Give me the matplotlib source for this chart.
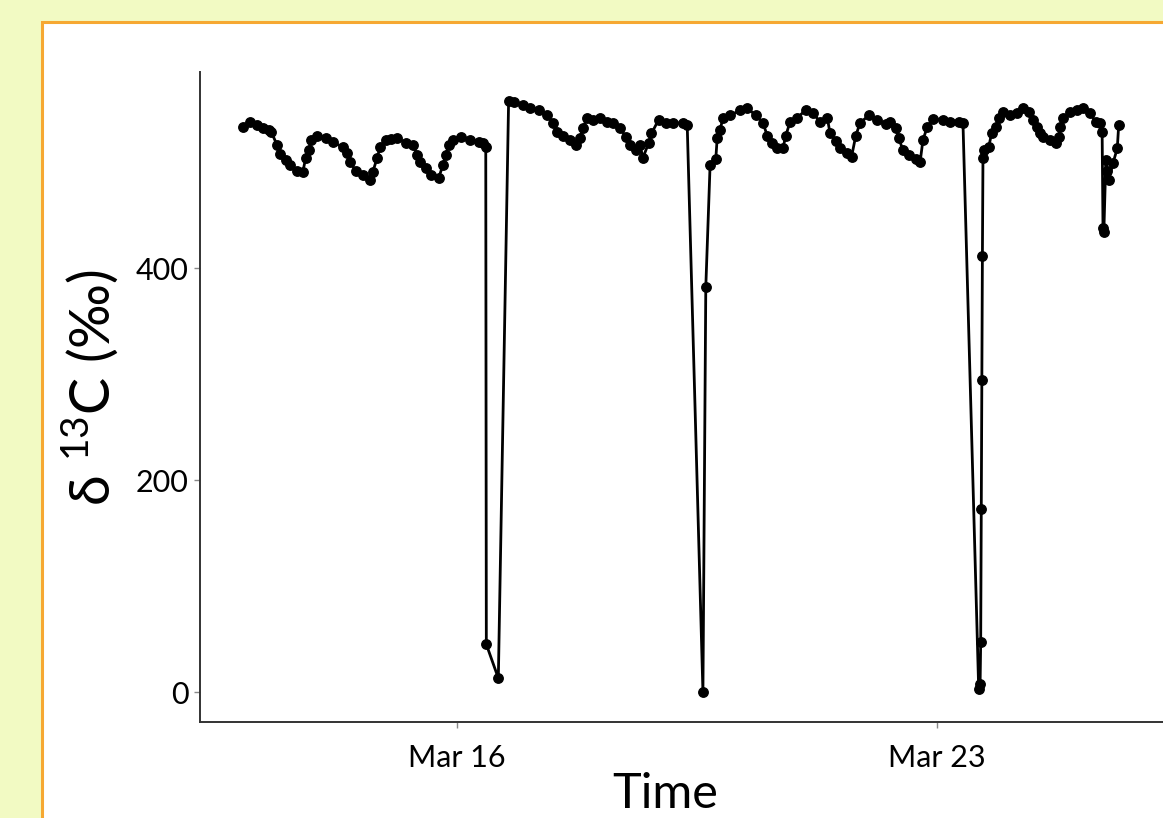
import numpy as np
import pandas as pd
import matplotlib
matplotlib.use("Agg")
import matplotlib.pyplot as plt
import matplotlib.dates as mdates
from matplotlib.patches import Rectangle

plt.rcParams['font.family'] = ['Lato', 'DejaVu Sans']
plt.rcParams['mathtext.fontset'] = 'custom'
plt.rcParams['mathtext.rm'] = 'Lato'

# hours after 2021-03-16 00:00, and delta 13C values (per mil)
hours = [-75, -72.5, -70, -68, -66, -65, -63, -62, -60, -58.5, -56, -54, -53, -52, -51, -49,
         -46, -43.5, -40, -38.5, -37.5, -35.5, -33, -30.5, -29.5, -28, -27, -25, -23, -21,
         -18, -15.5, -14, -13, -11, -9, -6.5, -5, -4, -3, -1.5, 1.5, 4.5, 7.5, 9, 10,
         10.2, 14.4,
         18, 20, 23, 25.5, 28.5, 31.5, 33.5, 35, 37, 39.5, 41.5, 43, 44, 45.5, 47.5, 50,
         52.5, 54.5, 57, 59, 60.5, 62.5, 64, 65, 67, 68, 70.5, 73, 75.5, 79, 80.5,
         86, 87,
         88.5, 90.5, 91, 92, 93, 95.5, 99, 101.5, 104.5, 107, 108.5, 110, 112, 114, 115,
         116.5, 119, 122, 124.5, 127, 129.5, 130.5, 132.5, 134, 136.5, 138, 139.5, 141,
         144, 147, 150, 151.5, 153.5, 154.5, 156, 158, 160.5, 162, 163, 164.5, 166.5, 170,
         172.5, 175.5, 177,
         182.5, 183, 183.2, 183.4, 183.6, 183.8, 184,
         184.5, 186, 187, 188.5, 189.5, 191, 193.5, 196, 198, 200, 201.5, 203, 204, 205,
         207.5, 209.5, 210.5, 211, 212, 214.5, 217, 219, 221.5, 223.5, 225, 225.7,
         226, 226.3, 227, 227.5, 228, 229.5, 231, 231.5]
d13c = [533, 538, 535, 532, 530, 528, 516, 508, 502, 497, 492, 491, 504, 511, 521, 525,
        523, 519, 514, 509, 500, 492, 488, 483, 491, 504, 514, 521, 522, 523,
        518, 516, 507, 500, 494, 488, 485, 497, 507, 516, 521, 524, 521, 519, 518, 514,
        45, 13,
        558, 557, 554, 551, 549, 544, 537, 528, 525, 521, 516, 523, 532, 542, 540, 542,
        538, 537, 532, 524, 516, 511, 516, 504, 518, 527, 540, 537, 537, 537, 535,
        0, 382,
        497, 503, 523, 530, 542, 544, 549, 551, 544, 537, 525, 518, 513, 513, 525,
        538, 542, 549, 546, 538, 542, 527, 520, 513, 509, 505, 525, 537,
        544, 540, 536, 538, 532, 523, 511, 507, 503, 500, 521, 533, 541, 540,
        538, 538, 537,
        3, 8, 47, 173, 294, 411, 504,
        511, 514, 527, 533, 542, 547, 544, 546, 551, 547, 540, 533, 527, 524,
        521, 518, 524, 533, 542, 547, 549, 551, 546, 538, 537, 528,
        438, 434, 502, 492, 483, 499, 513, 535]

base = pd.Timestamp("2021-03-16")
times = base + pd.to_timedelta(hours, unit="h")
tick_days = [pd.Timestamp("2021-03-16"), pd.Timestamp("2021-03-23")]
y_ticks = [0, 200, 400]

fig = plt.figure(figsize=(11.63, 8.18), dpi=100)
fig.patch.set_facecolor("#F2FAC3")

# white panel with orange frame
panel = Rectangle((42 / 1163, -0.2), 1.2, 1.2 - 22 / 818, transform=fig.transFigure,
                  facecolor="white", edgecolor="#F6A832", linewidth=2.2, zorder=-5)
fig.patches.append(panel)

ax = fig.add_axes([200 / 1163, 96 / 818, 963 / 1163, 650 / 818])
ax.set_facecolor("none")
ax.plot(times, d13c, color="black", linewidth=2.0, marker="o", markersize=6.8, zorder=3)

ax.set_xlim(base - pd.Timedelta(hours=90), base + pd.Timedelta(hours=247))
ax.set_ylim(-28.3, 585)
ax.set_xticks(tick_days)
ax.xaxis.set_major_formatter(mdates.DateFormatter("%b %d"))
ax.set_yticks(y_ticks)

for s in ["top", "right"]:
    ax.spines[s].set_visible(False)
for s in ["left", "bottom"]:
    ax.spines[s].set_color("#333333")
    ax.spines[s].set_linewidth(1.4)
ax.tick_params(axis="both", length=4, width=1, color="#888888", labelsize=22,
               labelcolor="black", pad=4)
ax.tick_params(axis="x", pad=12)

fig.text(665 / 1163, 1 - 772 / 818, "Time", ha="center", va="top", fontsize=35)
fig.text(90 / 1163, 1 - 388 / 818, r"δ $^{\mathregular{13}}$C (‰)", ha="center", va="center",
         rotation=90, fontsize=40)

fig.savefig("out.png", dpi=100, facecolor=fig.get_facecolor())
